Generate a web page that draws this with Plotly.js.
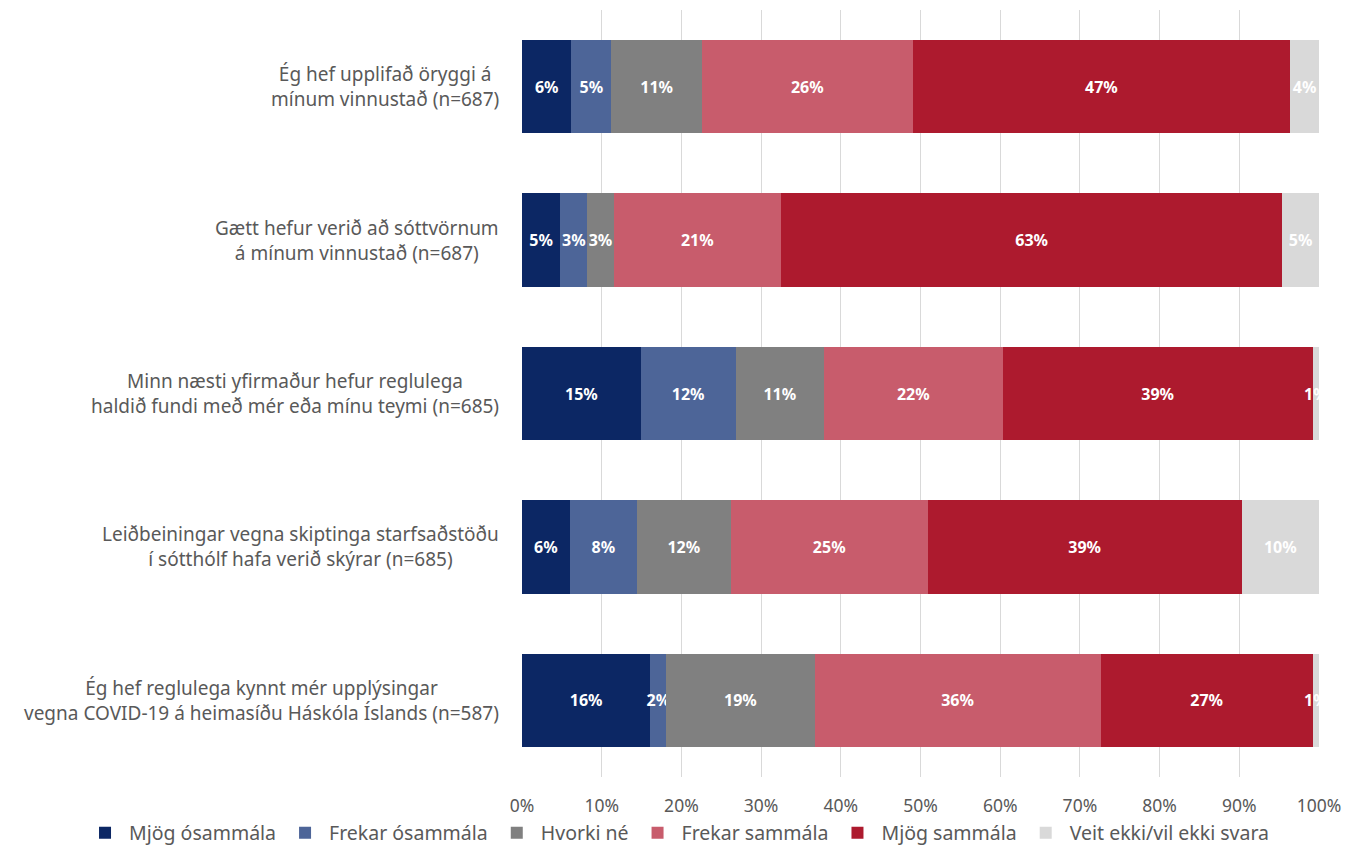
<!DOCTYPE html>
<html>
<head>
<meta charset="utf-8">
<script src="https://cdn.plot.ly/plotly-3.0.1.min.js"></script>
<style>html,body{margin:0;padding:0;background:#fff}#chart{width:1358px;height:863px}</style>
</head>
<body>
<div id="chart"></div>
<script>
const categories = [
  "Ég hef upplifað öryggi á<br>mínum vinnustað (n=687)",
  "Gætt hefur verið að sóttvörnum<br>á mínum vinnustað (n=687)",
  "Minn næsti yfirmaður hefur reglulega<br>haldið fundi með mér eða mínu teymi (n=685)",
  "Leiðbeiningar vegna skiptinga starfsaðstöðu<br>í sótthólf hafa verið skýrar (n=685)",
  "Ég hef reglulega kynnt mér upplýsingar<br>vegna COVID-19 á heimasíðu Háskóla Íslands (n=587)"
];
const seriesNames = ["Mjög ósammála","Frekar ósammála","Hvorki né","Frekar sammála","Mjög sammála","Veit ekki/vil ekki svara"];
const mjogOsammala   = [6.2, 4.8, 14.9, 6.0, 16.1];
const frekarOsammala = [5.0, 3.4, 11.9, 8.4, 2.0];
const hvorkiNe       = [11.4, 3.3, 11.1, 11.8, 18.6];
const frekarSammala  = [26.4, 21.0, 22.4, 24.7, 35.9];
const mjogSammala    = [47.4, 62.9, 38.9, 39.4, 26.6];
const veitEkki       = [3.6, 4.6, 0.8, 9.7, 0.8];
const xTicks = [0,10,20,30,40,50,60,70,80,90,100];

const colors = ["#0c2764","#4d6598","#808080","#c85c6c","#ad1a2e","#d9d9d9"];
const allSeries = [mjogOsammala, frekarOsammala, hvorkiNe, frekarSammala, mjogSammala, veitEkki];
const FONT = "Noto Sans, sans-serif";

const traces = allSeries.map((vals, i) => ({
  type: 'bar', orientation: 'h',
  name: seriesNames[i],
  x: vals, y: categories,
  marker: {color: colors[i], line: {width: 0}},
  text: vals.map(v => Math.round(v) + '%'),
  textposition: 'inside',
  insidetextanchor: 'middle',
  constraintext: 'none',
  textangle: 0,
  textfont: {color: '#ffffff', size: 16, family: FONT, weight: 'bold'},
  cliponaxis: true,
  hoverinfo: 'name+x'
}));

const annotations = categories.map(c => ({
  xref: 'paper', yref: 'y', x: -0.026, y: c,
  xanchor: 'right', yanchor: 'middle', align: 'center',
  text: c, showarrow: false,
  font: {family: FONT, size: 19, color: '#595959'}
}));

const layout = {
  width: 1358, height: 863,
  margin: {l: 522, r: 39, t: 10, b: 86, autoexpand: false},
  barmode: 'stack', bargap: 0.39,
  paper_bgcolor: '#ffffff', plot_bgcolor: '#ffffff',
  font: {family: FONT, color: '#595959'},
  showlegend: true,
  legend: {orientation: 'h', x: -0.5533, xanchor: 'left', y: -0.073, yanchor: 'middle',
           bgcolor: 'rgba(0,0,0,0)', itemwidth: 38,
           font: {family: FONT, size: 19.5, color: '#595959'}, traceorder: 'normal'},
  xaxis: {range: [0, 100], tickvals: xTicks, ticktext: xTicks.map(t => t + '%'), tickangle: 0,
          showgrid: true, gridcolor: '#d9d9d9', gridwidth: 1, zeroline: false,
          showline: false, ticks: '', ticklabelstandoff: 16,
          tickfont: {family: FONT, size: 17.5, color: '#595959'}},
  yaxis: {autorange: 'reversed', showticklabels: false, ticks: '', showgrid: false, zeroline: false, showline: false},
  annotations: annotations
};

Plotly.newPlot('chart', traces, layout, {displayModeBar: false, staticPlot: true});
</script>
</body>
</html>
